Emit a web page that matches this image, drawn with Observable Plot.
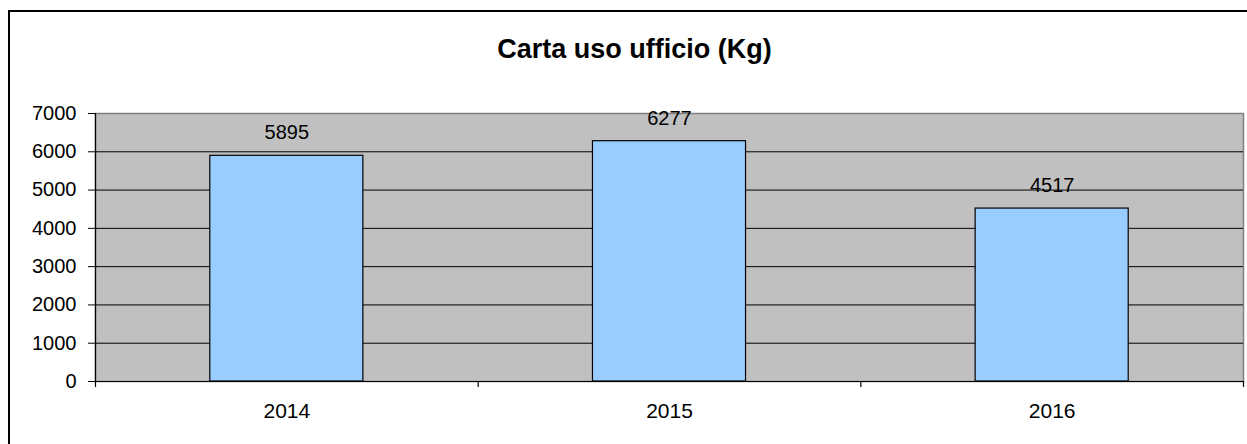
<!DOCTYPE html>
<html>
<head>
<meta charset="utf-8">
<script src="https://cdn.jsdelivr.net/npm/d3@7"></script>
<script src="https://cdn.jsdelivr.net/npm/@observablehq/plot@0.6"></script>
<style>
  html, body { margin: 0; padding: 0; background: #fff; }
  #wrap { position: relative; width: 1247px; height: 444px; overflow: hidden; font-family: "Liberation Sans", Arial, Helvetica, sans-serif; }
  #border { position: absolute; left: 8px; top: 10px; width: 1260px; height: 460px; border: 2px solid #000; box-sizing: border-box; }
  #title { position: absolute; left: 9px; width: 1251px; top: 0; height: 98px; line-height: 98px; text-align: center; font-weight: bold; font-size: 27px; color: #000; }
  #chart { position: absolute; left: 0; top: 0; }
</style>
</head>
<body>
<div id="wrap">
  <div id="border"></div>
  <div id="title">Carta uso ufficio (Kg)</div>
  <div id="chart"></div>
</div>
<script>
const categories = ["2014", "2015", "2016"];
const values = [5895, 6277, 4517];
const yTicks = [0, 1000, 2000, 3000, 4000, 5000, 6000, 7000];
const gridTicks = [1000, 2000, 3000, 4000, 5000, 6000];

const data = categories.map((c, i) => ({year: c, i, value: values[i]}));

const chart = Plot.plot({
  width: 1247,
  height: 444,
  marginLeft: 95,
  marginRight: 4,
  marginTop: 113,
  marginBottom: 63,
  style: {fontFamily: "'Liberation Sans', Arial, Helvetica, sans-serif", background: "transparent", overflow: "visible"},
  x: {type: "linear", domain: [0, categories.length], label: null},
  y: {domain: [0, 7000], label: null},
  marks: [
    Plot.frame({fill: "#C0C0C0", stroke: "#808080", strokeWidth: 1.5}),
    Plot.gridY(gridTicks, {stroke: "#000", strokeOpacity: 1, strokeWidth: 1}),
    Plot.rectY(data, {x1: d => d.i + 0.3, x2: d => d.i + 0.7, y: "value", fill: "#99CCFF", stroke: "#000", strokeWidth: 1.2}),
    Plot.ruleY([0], {stroke: "#000", strokeWidth: 1.2}),
    Plot.ruleX([0], {stroke: "#000", strokeWidth: 1.2}),
    Plot.axisY({ticks: yTicks, label: null, tickSize: 7, tickPadding: 12, fontSize: 20, tickFormat: d => String(d), stroke: "#000", fill: "#000"}),
    Plot.axisX({ticks: d3.range(categories.length + 1), label: null, tickSize: 6, tickFormat: () => "", stroke: "#000", strokeWidth: 1.2}),
    Plot.axisX({ticks: categories.map((c, i) => i + 0.5), label: null, tickSize: 0, tickPadding: 22, fontSize: 21, tickFormat: v => categories[Math.floor(v)], fill: "#000"}),
    Plot.text(data, {x: d => d.i + 0.5, y: "value", text: d => String(d.value), dy: -23, fontSize: 20, fill: "#000"})
  ]
});
document.getElementById("chart").appendChild(chart);
</script>
</body>
</html>
